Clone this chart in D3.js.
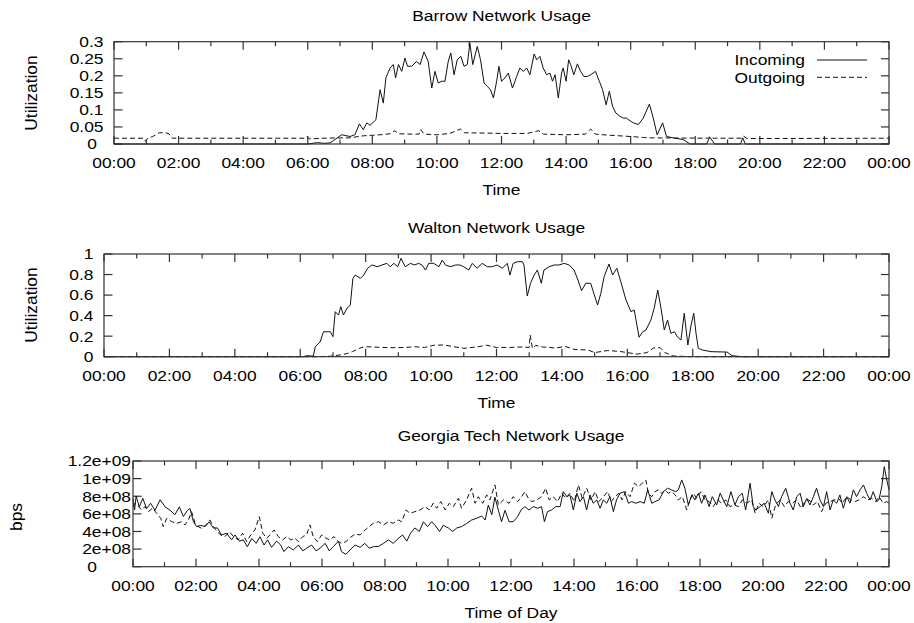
<!DOCTYPE html>
<html lang="en">
<head>
<meta charset="UTF-8" />
<title>Network Usage</title>
<script src="https://d3js.org/d3.v7.min.js"></script>
<style>
  body { margin: 0; background: #fff; }
  svg { display: block; }
  text { font-family: "Liberation Sans", Arial, Helvetica, sans-serif; font-size: 14.5px; fill: #000; }
  .frame { fill: none; stroke: #333; stroke-width: 1.2; }
  .tick { stroke: #333; stroke-width: 1.2; }
  .series { fill: none; stroke: #111; stroke-width: 1; stroke-linejoin: round; }
  .dashed { stroke-dasharray: 5,3; }
</style>
</head>
<body>
<svg id="chart" width="914" height="623"></svg>
<script>
// time axis (hours since midnight)
const hourTicks = d3.range(0, 25);
const hourLabels = ['00:00', '02:00', '04:00', '06:00', '08:00', '10:00', '12:00',
  '14:00', '16:00', '18:00', '20:00', '22:00', '00:00'];

// y ticks per panel
const barrowYTicks = [0, 0.05, 0.1, 0.15, 0.2, 0.25, 0.3];
const barrowYLabels = ['0', '0.05', '0.1', '0.15', '0.2', '0.25', '0.3'];
const waltonYTicks = [0, 0.2, 0.4, 0.6, 0.8, 1];
const waltonYLabels = ['0', '0.2', '0.4', '0.6', '0.8', '1'];
const gtYTicks = [0, 2e8, 4e8, 6e8, 8e8, 1e9, 1.2e9];
const gtYLabels = ['0', '2e+08', '4e+08', '6e+08', '8e+08', '1e+09', '1.2e+09'];

const legendNames = ['Incoming', 'Outgoing'];

// Barrow utilization, [hour, value]
const barrowIn = [[0,0],[6.0,0],[6.3,0.004],[6.5,0.002],[6.69,0.003],[7.05,0.027],[7.31,0.022],[7.46,0.027],
  [7.6,0.059],[7.72,0.042],[7.83,0.062],[7.93,0.055],[8.11,0.071],[8.24,0.159],[8.34,0.12],[8.42,0.194],
  [8.55,0.223],[8.65,0.233],[8.72,0.194],[8.81,0.233],[8.91,0.213],[9.01,0.252],[9.09,0.228],[9.22,0.228],
  [9.37,0.242],[9.48,0.233],[9.6,0.27],[9.73,0.242],[9.84,0.164],[9.94,0.213],[10.04,0.179],[10.15,0.184],
  [10.25,0.184],[10.35,0.242],[10.43,0.267],[10.53,0.203],[10.63,0.247],[10.74,0.257],[10.84,0.228],
  [10.94,0.233],[11.02,0.296],[11.11,0.233],[11.25,0.286],[11.35,0.247],[11.46,0.179],[11.56,0.169],
  [11.66,0.159],[11.75,0.135],[11.85,0.184],[11.92,0.228],[12.0,0.184],[12.11,0.194],[12.21,0.208],
  [12.34,0.164],[12.47,0.198],[12.57,0.223],[12.68,0.213],[12.78,0.223],[12.88,0.203],[13.01,0.264],
  [13.09,0.247],[13.19,0.257],[13.29,0.223],[13.4,0.203],[13.5,0.208],[13.58,0.184],[13.66,0.203],
  [13.76,0.135],[13.86,0.208],[13.91,0.223],[14.0,0.184],[14.08,0.247],[14.14,0.233],[14.24,0.203],
  [14.35,0.235],[14.45,0.213],[14.55,0.198],[14.66,0.198],[14.76,0.203],[14.91,0.213],[15.03,0.184],
  [15.13,0.159],[15.24,0.115],[15.34,0.155],[15.44,0.11],[15.54,0.091],[15.67,0.081],[15.77,0.076],
  [15.87,0.076],[15.98,0.068],[16.08,0.062],[16.24,0.057],[16.39,0.076],[16.58,0.117],[16.7,0.076],
  [16.82,0.027],[16.99,0.062],[17.11,0.022],[17.32,0.018],[17.63,0.013],[17.84,0],[18.35,0],[18.45,0.02],
  [18.6,0],[19.4,0],[19.47,0.018],[19.55,0],[24,0]];
const barrowOut = [[0,0.017],[0.9,0.017],[0.97,0.008],[1.05,0.017],[1.2,0.022],[1.4,0.033],[1.6,0.033],
  [1.7,0.03],[1.8,0.017],[5.9,0.017],[5.97,0.022],[6.05,0.015],[6.5,0.017],[7.0,0.018],[7.3,0.018],
  [7.72,0.024],[8.24,0.027],[8.55,0.03],[8.7,0.039],[8.8,0.03],[9.2,0.029],[9.45,0.029],[9.5,0.042],
  [9.6,0.029],[10.0,0.027],[10.4,0.031],[10.73,0.044],[10.85,0.033],[11.5,0.032],[12.0,0.031],
  [12.8,0.031],[13.15,0.039],[13.3,0.029],[14.0,0.027],[14.6,0.029],[14.76,0.044],[14.9,0.029],
  [15.3,0.026],[16.0,0.022],[16.4,0.019],[16.6,0.018],[18.4,0.017],[18.47,0.022],[18.55,0.017],
  [19.45,0.017],[19.5,0.023],[19.6,0.016],[24,0.017]];

// Walton utilization, [hour, value]
const waltonIn = [[0,0],[6.1,0],[6.2,0.01],[6.3,0.007],[6.4,0.007],[6.46,0.097],[6.61,0.146],[6.71,0.243],
  [6.92,0.243],[7.0,0.195],[7.07,0.438],[7.17,0.406],[7.24,0.487],[7.32,0.406],[7.43,0.471],[7.53,0.503],
  [7.61,0.763],[7.68,0.795],[7.84,0.763],[7.94,0.795],[8.06,0.861],[8.19,0.893],[8.35,0.876],[8.5,0.893],
  [8.65,0.909],[8.75,0.876],[8.86,0.909],[8.98,0.876],[9.08,0.958],[9.21,0.876],[9.37,0.909],[9.49,0.893],
  [9.62,0.909],[9.72,0.893],[9.83,0.844],[9.93,0.909],[10.08,0.909],[10.24,0.876],[10.34,0.941],
  [10.44,0.893],[10.59,0.876],[10.75,0.893],[10.88,0.893],[11.0,0.876],[11.15,0.844],[11.26,0.909],
  [11.41,0.861],[11.56,0.909],[11.72,0.876],[11.87,0.876],[12.02,0.893],[12.18,0.861],[12.33,0.909],
  [12.41,0.795],[12.51,0.909],[12.64,0.925],[12.79,0.925],[12.84,0.893],[12.94,0.591],[13.04,0.715],
  [13.15,0.795],[13.25,0.844],[13.37,0.715],[13.45,0.844],[13.61,0.876],[13.76,0.893],[13.91,0.893],
  [14.07,0.909],[14.22,0.893],[14.37,0.844],[14.49,0.747],[14.6,0.643],[14.73,0.715],[14.88,0.715],
  [14.99,0.601],[15.09,0.503],[15.19,0.617],[15.29,0.779],[15.44,0.903],[15.55,0.795],[15.68,0.861],
  [15.8,0.73],[15.96,0.552],[16.11,0.438],[16.21,0.455],[16.36,0.189],[16.47,0.243],[16.57,0.26],
  [16.72,0.357],[16.82,0.471],[16.93,0.649],[17.03,0.471],[17.13,0.26],[17.23,0.357],[17.33,0.228],
  [17.44,0.243],[17.54,0.189],[17.64,0.163],[17.74,0.423],[17.85,0.114],[17.95,0.309],[18.03,0.423],
  [18.1,0.228],[18.17,0.082],[18.3,0.065],[18.56,0.049],[19.05,0.045],[19.2,0.01],[19.5,0],[24,0]];
const waltonOut = [[0,0],[6.5,0],[6.92,0.005],[7.2,0.016],[7.43,0.03],[7.6,0.05],[7.8,0.08],[7.95,0.097],
  [8.2,0.095],[8.5,0.09],[8.9,0.088],[9.2,0.09],[9.5,0.097],[9.8,0.09],[10.1,0.112],[10.4,0.114],
  [10.7,0.097],[11.0,0.082],[11.4,0.095],[11.7,0.112],[12.0,0.09],[12.4,0.09],[12.8,0.095],[13.0,0.09],
  [13.03,0.21],[13.1,0.08],[13.2,0.11],[13.4,0.095],[13.8,0.085],[14.1,0.1],[14.4,0.07],[14.8,0.065],
  [15.0,0.04],[15.4,0.06],[15.8,0.05],[16.0,0.04],[16.3,0.025],[16.6,0.04],[16.8,0.085],[17.0,0.088],
  [17.15,0.04],[17.4,0.007],[18,0],[24,0]];

// Georgia Tech traffic, [hour, bps / 1e8]
const GT_UNIT = 1e8;
const gtIn = [[0,7.77],[0.05,6.44],[0.1,8.03],[0.2,6.79],[0.31,7.77],[0.43,6.6],[0.56,7.2],[0.7,6.4],
  [0.86,7.6],[1.02,6.8],[1.18,6.4],[1.33,5.9],[1.47,6.8],[1.6,5.7],[1.73,6.4],[1.81,6.6],[1.92,5.1],
  [2.02,4.55],[2.15,4.7],[2.29,4.55],[2.42,5.1],[2.55,4.4],[2.68,4.4],[2.81,3.6],[2.97,3.8],[3.13,3.05],
  [3.24,3.6],[3.38,2.9],[3.5,3.05],[3.63,2.27],[3.77,3.2],[3.91,2.65],[4.03,3.4],[4.16,2.46],[4.27,3.05],
  [4.4,2.2],[4.56,2.9],[4.69,2.46],[4.79,1.71],[4.93,2.27],[5.09,1.9],[5.25,2.46],[5.39,1.8],[5.51,2.1],
  [5.67,2.46],[5.81,1.8],[5.94,2.1],[6.1,2.65],[6.23,1.8],[6.36,2.27],[6.52,2.9],[6.62,1.71],[6.76,1.4],
  [6.89,1.9],[7.05,2.46],[7.21,2.2],[7.36,2.65],[7.5,2.1],[7.63,2.27],[7.79,2.3],[7.95,2.65],[8.11,3.05],
  [8.26,2.65],[8.42,3.2],[8.56,3.6],[8.69,2.9],[8.81,3.8],[8.95,4.4],[9.09,4.0],[9.22,5.1],[9.35,4.55],
  [9.48,5.1],[9.59,4.7],[9.73,4.0],[9.85,4.7],[10.01,4.4],[10.15,4.0],[10.28,4.4],[10.43,4.55],[10.59,4.9],
  [10.75,5.3],[10.91,5.5],[11.07,5.75],[11.18,5.3],[11.28,7.0],[11.39,5.9],[11.49,7.9],[11.6,6.4],
  [11.7,5.1],[11.81,6.4],[11.94,5.11],[12.07,5.11],[12.21,5.68],[12.32,6.44],[12.44,6.82],[12.57,6.44],
  [12.71,6.82],[12.85,6.64],[12.97,6.82],[13.06,5.11],[13.16,6.25],[13.29,6.44],[13.42,6.82],[13.56,6.82],
  [13.66,8.52],[13.77,7.95],[13.87,8.15],[13.98,6.44],[14.09,8.34],[14.19,7.39],[14.3,7.95],[14.4,6.44],
  [14.51,8.15],[14.61,7.2],[14.72,7.58],[14.83,6.64],[14.93,7.58],[15.04,7.2],[15.14,7.95],[15.25,6.25],
  [15.35,7.58],[15.46,8.34],[15.6,8.52],[15.73,7.2],[15.83,7.39],[15.96,7.2],[16.1,7.39],[16.23,7.2],
  [16.34,8.72],[16.47,7.2],[16.57,7.39],[16.7,7.58],[16.84,8.52],[16.97,8.91],[17.1,8.72],[17.23,8.52],
  [17.31,8.72],[17.42,9.85],[17.52,8.91],[17.63,7.01],[17.74,8.15],[17.84,7.58],[17.95,8.34],[18.05,7.2],
  [18.16,8.15],[18.29,6.82],[18.39,7.95],[18.53,7.01],[18.64,8.34],[18.74,7.58],[18.85,6.82],[18.98,8.52],
  [19.11,7.01],[19.22,7.95],[19.34,8.34],[19.45,6.44],[19.59,9.48],[19.69,6.82],[19.77,6.44],[19.91,6.82],
  [20.04,7.2],[20.17,6.07],[20.28,8.52],[20.38,7.58],[20.49,6.82],[20.59,7.95],[20.72,8.91],[20.86,7.2],
  [20.96,6.44],[21.07,7.95],[21.18,8.34],[21.28,6.82],[21.39,7.77],[21.49,7.01],[21.6,7.95],[21.7,8.91],
  [21.81,7.58],[21.92,6.82],[22.02,8.52],[22.13,6.44],[22.23,7.58],[22.34,7.2],[22.44,8.15],[22.55,6.64],
  [22.66,7.95],[22.76,7.2],[22.87,8.72],[22.97,7.95],[23.08,8.72],[23.19,9.28],[23.29,8.34],[23.4,7.58],
  [23.5,8.52],[23.61,7.39],[23.68,7.58],[23.77,9.09],[23.85,11.36],[23.93,9.85],[24,8.72]];
const gtOut = [[0,6.8],[0.06,7.2],[0.17,6.82],[0.28,6.44],[0.38,6.82],[0.49,6.25],[0.62,6.64],[0.75,6.07],
  [0.88,5.5],[0.96,4.55],[1.07,5.5],[1.23,5.11],[1.39,4.93],[1.54,5.11],[1.65,4.74],[1.76,5.31],[1.86,6.25],
  [1.97,4.93],[2.07,4.55],[2.18,4.36],[2.32,4.74],[2.44,5.31],[2.55,4.55],[2.68,3.98],[2.78,3.61],
  [2.92,3.42],[3.06,3.98],[3.19,3.42],[3.34,3.04],[3.48,3.8],[3.61,2.85],[3.74,3.61],[3.87,4.17],
  [4.01,5.68],[4.12,3.8],[4.24,3.23],[4.35,3.61],[4.48,4.17],[4.61,3.42],[4.75,3.04],[4.88,3.42],
  [5.01,3.04],[5.14,3.23],[5.25,2.85],[5.39,3.42],[5.51,3.61],[5.62,4.74],[5.72,3.42],[5.85,2.85],
  [5.99,3.61],[6.13,3.23],[6.25,3.04],[6.38,3.42],[6.52,2.85],[6.62,2.66],[6.76,2.85],[6.89,3.3],
  [7.05,3.7],[7.21,3.61],[7.37,4.17],[7.5,4.55],[7.63,4.93],[7.79,5.11],[7.95,4.74],[8.11,5.11],
  [8.26,4.93],[8.42,5.31],[8.53,5.11],[8.67,6.44],[8.79,6.07],[8.95,6.25],[9.11,6.44],[9.27,6.82],
  [9.41,6.44],[9.53,7.2],[9.64,6.64],[9.77,7.39],[9.91,6.44],[10.04,7.2],[10.17,6.82],[10.33,7.77],
  [10.43,6.64],[10.59,7.58],[10.75,8.91],[10.86,7.2],[10.96,7.95],[11.1,7.2],[11.23,8.15],[11.33,7.58],
  [11.49,9.28],[11.6,7.01],[11.76,7.58],[11.94,7.2],[12.07,7.95],[12.21,7.39],[12.34,7.95],[12.44,8.52],
  [12.55,7.77],[12.66,7.39],[12.82,7.58],[12.97,7.95],[13.1,8.91],[13.21,7.58],[13.34,7.95],[13.48,7.39],
  [13.61,8.34],[13.74,7.77],[13.87,8.34],[14.01,7.39],[14.14,9.28],[14.26,7.77],[14.4,8.91],[14.54,7.58],
  [14.67,8.52],[14.79,7.39],[14.93,7.95],[15.07,8.52],[15.18,7.39],[15.3,7.95],[15.43,8.34],[15.53,7.58],
  [15.64,8.52],[15.78,7.95],[15.92,9.48],[16.04,9.09],[16.17,9.48],[16.28,9.85],[16.36,8.34],[16.47,7.95],
  [16.57,8.52],[16.68,8.72],[16.78,8.34],[16.89,8.72],[16.99,8.34],[17.1,8.52],[17.21,8.15],[17.31,7.58],
  [17.44,7.95],[17.58,6.44],[17.68,7.58],[17.79,8.34],[17.89,7.77],[18.03,8.52],[18.16,7.58],[18.29,7.39],
  [18.42,6.82],[18.56,7.58],[18.69,7.2],[18.82,7.58],[18.95,6.82],[19.09,7.01],[19.22,6.82],[19.34,7.58],
  [19.48,7.2],[19.64,7.58],[19.75,6.07],[19.87,7.2],[20.01,6.82],[20.17,7.58],[20.28,5.5],[20.4,7.01],
  [20.54,7.58],[20.68,6.82],[20.8,7.39],[20.93,7.2],[21.07,7.58],[21.21,6.64],[21.33,7.39],[21.46,7.58],
  [21.6,7.01],[21.73,7.39],[21.86,6.25],[21.99,7.2],[22.13,7.39],[22.26,7.58],[22.39,7.77],[22.52,7.2],
  [22.66,7.95],[22.79,7.58],[22.92,7.39],[23.05,7.58],[23.19,7.95],[23.32,7.58],[23.45,7.77],[23.58,7.39],
  [23.68,7.95],[23.82,7.2],[23.93,7.39],[24,7.2]];

// the original bitmap text is stretched sideways
const SX = 1.2;

const svg = d3.select('#chart');

function addText(g, x, y, str, anchor, rotated) {
  const tf = `translate(${x},${y})` + (rotated ? ' rotate(-90) scale(1.2,1.2)' : ` scale(${SX},1)`);
  return g.append('text').attr('transform', tf).attr('text-anchor', anchor).text(str);
}

const panels = [
  { left: 114, right: 889, top: 41.7, bottom: 144, title: 'Barrow Network Usage', titleY: 21,
    ylabel: 'Utilization', ylabelX: 36.7, ylabelY: 93, xlabel: 'Time',
    yDomain: [0, 0.3], yTicks: barrowYTicks, yLabels: barrowYLabels, labelRight: 103.5, zeroRight: 97,
    series: [{ data: barrowIn, k: 1, dashed: false }, { data: barrowOut, k: 1, dashed: true }], legend: true },
  { left: 104, right: 889, top: 254, bottom: 356.7, title: 'Walton Network Usage', titleY: 233,
    ylabel: 'Utilization', ylabelX: 37.3, ylabelY: 305, xlabel: 'Time',
    yDomain: [0, 1], yTicks: waltonYTicks, yLabels: waltonYLabels, labelRight: 93.5, zeroRight: 93.5,
    series: [{ data: waltonIn, k: 1, dashed: false }, { data: waltonOut, k: 1, dashed: true }], legend: false },
  { left: 133, right: 889, top: 461, bottom: 566.7, title: 'Georgia Tech Network Usage', titleY: 441,
    ylabel: 'bps', ylabelX: 22, ylabelY: 517, xlabel: 'Time of Day',
    yDomain: [0, 1.2e9], yTicks: gtYTicks, yLabels: gtYLabels, labelRight: 131, zeroRight: 97,
    series: [{ data: gtIn, k: GT_UNIT, dashed: false }, { data: gtOut, k: GT_UNIT, dashed: true }], legend: false }
];

panels.forEach(p => {
  const x = d3.scaleLinear().domain([0, 24]).range([p.left, p.right]);
  const y = d3.scaleLinear().domain(p.yDomain).range([p.bottom, p.top]);
  const g = svg.append('g');

  // hourly ticks, inward on bottom and top (odd hours are minor)
  hourTicks.forEach(h => {
    const len = h % 2 === 0 ? 8 : 4.5;
    g.append('line').attr('class', 'tick')
      .attr('x1', x(h)).attr('x2', x(h)).attr('y1', p.bottom).attr('y2', p.bottom - len);
    g.append('line').attr('class', 'tick')
      .attr('x1', x(h)).attr('x2', x(h)).attr('y1', p.top).attr('y2', p.top + len);
  });
  p.yTicks.forEach(v => {
    g.append('line').attr('class', 'tick')
      .attr('x1', p.left).attr('x2', p.left + 8.5).attr('y1', y(v)).attr('y2', y(v));
    g.append('line').attr('class', 'tick')
      .attr('x1', p.right).attr('x2', p.right - 8).attr('y1', y(v)).attr('y2', y(v));
  });

  // series
  p.series.forEach(s => {
    const line = d3.line().x(d => x(d[0])).y(d => y(d[1] * s.k));
    g.append('path').attr('class', s.dashed ? 'series dashed' : 'series').attr('d', line(s.data));
  });

  g.append('rect').attr('class', 'frame')
    .attr('x', p.left).attr('y', p.top)
    .attr('width', p.right - p.left).attr('height', p.bottom - p.top);

  // tick labels
  hourLabels.forEach((lab, i) => addText(g, x(i * 2), p.bottom + 24.3, lab, 'middle'));
  p.yTicks.forEach((v, i) => {
    const xr = v === 0 ? p.zeroRight : p.labelRight;
    addText(g, xr, y(v) + 5.4, p.yLabels[i], 'end');
  });

  // titles
  addText(g, (p.left + p.right) / 2, p.titleY, p.title, 'middle');
  addText(g, (p.left + p.right) / 2, p.bottom + 51, p.xlabel, 'middle');
  addText(g, p.ylabelX, p.ylabelY, p.ylabel, 'middle', true);

  if (p.legend) {
    const ly = [60, 77.3];
    legendNames.forEach((name, i) => {
      addText(g, 805, ly[i] + 5.4, name, 'end');
      g.append('line').attr('class', i === 1 ? 'series dashed' : 'series')
        .attr('x1', 817).attr('x2', 867).attr('y1', ly[i]).attr('y2', ly[i]);
    });
  }
});
</script>
</body>
</html>
